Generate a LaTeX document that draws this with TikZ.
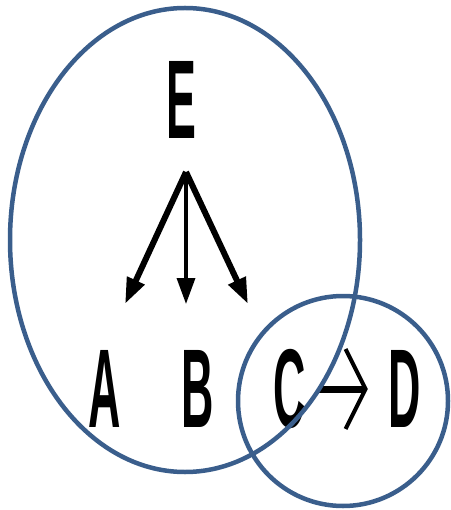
\documentclass[tikz,border=0pt]{standalone}
\usepackage{fontspec}
\setmainfont{Liberation Sans}
\usetikzlibrary{arrows.meta}
\definecolor{ringblue}{HTML}{3A5E8C}
\tikzset{
  letter/.style={inner sep=0pt, font=\bfseries\fontsize{112}{112}\selectfont, xscale=0.4},
  ring/.style={draw=ringblue, line width=4.5pt},
  fan/.style={line width=6pt, -{Triangle[length=26pt,width=18pt]}},
}
\begin{document}
\begin{tikzpicture}[x=1pt,y=-1pt]
\useasboundingbox (0,0) rectangle (450,510);
\node[letter] (E) at (181,100) {E};
\node[letter] (A) at (105,389) {A};
\node[letter] (B) at (198,389) {B};
\node[letter] (C) at (290,389) {C};
\node[letter] (D) at (405,389) {D};
\coordinate (apex) at (186,172);
\coordinate (eA) at (125,304);
\coordinate (eB) at (186,304);
\coordinate (eC) at (248,304);
\draw[fan] (apex) -- (eA);
\draw[fan, line width=3.5pt] (apex) -- (eB);
\draw[fan] (apex) -- (eC);
\draw[line width=7pt, shorten <=12pt, shorten >=21pt, -{Straight Barb[length=20pt,width=80pt,line width=4pt]}] (C) -- (D);
\draw[ring] (185,240) ellipse [x radius=175, y radius=232];
\draw[ring] (343,401) circle [radius=105];
\end{tikzpicture}
\end{document}
